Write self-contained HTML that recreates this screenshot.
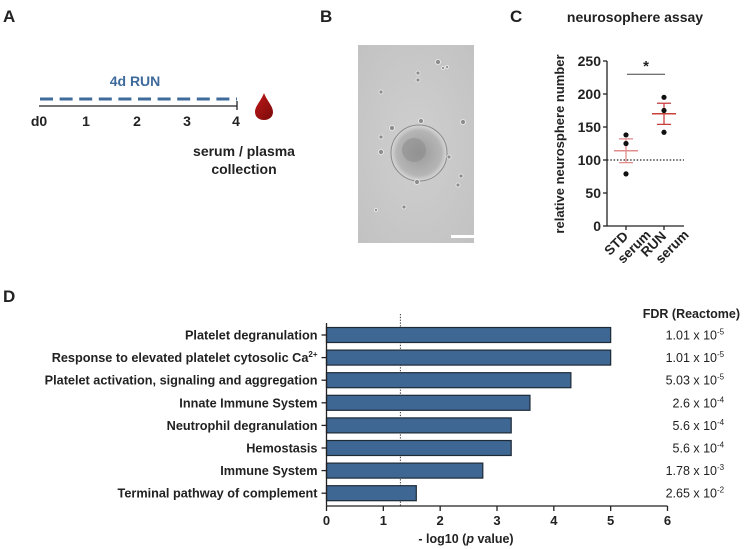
<!DOCTYPE html>
<html><head><meta charset="utf-8"><style>
html,body{margin:0;padding:0;background:#fff;}
svg{display:block;font-family:"Liberation Sans",Arial,sans-serif;}
.b{font-weight:bold;}
</style></head><body>
<svg id="fig" width="744" height="549" viewBox="0 0 744 549" xmlns="http://www.w3.org/2000/svg">
<defs>
<radialGradient id="cellbg" cx="0.5" cy="0.5" r="0.7"><stop offset="0" stop-color="#cfcfcf"/><stop offset="1" stop-color="#c2c2c2"/></radialGradient>
<radialGradient id="sph" cx="0.5" cy="0.5" r="0.5"><stop offset="0" stop-color="#9a9a9a"/><stop offset="0.8" stop-color="#b5b5b5"/><stop offset="1" stop-color="#d8d8d8"/></radialGradient>
<linearGradient id="drop" x1="0" y1="0" x2="1" y2="1"><stop offset="0" stop-color="#c01818"/><stop offset="1" stop-color="#7a0a0a"/></linearGradient>
</defs>

<text x="3" y="22" class="b" font-size="17" fill="#222">A</text>
<text x="320" y="22" class="b" font-size="17" fill="#222">B</text>
<text x="510" y="22" class="b" font-size="17" fill="#222">C</text>
<text x="3" y="302" class="b" font-size="17" fill="#222">D</text>

<g>
<text x="135" y="86" text-anchor="middle" class="b" font-size="14" fill="#3e6b9b">4d RUN</text>
<line x1="40" y1="99" x2="237" y2="99" stroke="#3e6b9b" stroke-width="3" stroke-dasharray="13,6.6"/>
<line x1="39" y1="106" x2="237" y2="106" stroke="#222" stroke-width="1.3"/>
<line x1="237" y1="101" x2="237" y2="110" stroke="#222" stroke-width="1.3"/>
<text x="39" y="126" text-anchor="middle" class="b" font-size="14" fill="#222">d0</text>
<text x="86" y="126" text-anchor="middle" class="b" font-size="14" fill="#222">1</text>
<text x="137" y="126" text-anchor="middle" class="b" font-size="14" fill="#222">2</text>
<text x="187" y="126" text-anchor="middle" class="b" font-size="14" fill="#222">3</text>
<text x="236" y="126" text-anchor="middle" class="b" font-size="14" fill="#222">4</text>
<path d="M264 93 C267 101 273 106 273 112 C273 117 269 120 264 120 C259 120 255 117 255 112 C255 106 261 101 264 93 Z" fill="url(#drop)"/>
<text x="244" y="156" text-anchor="middle" class="b" font-size="14" fill="#222">serum / plasma</text>
<text x="244" y="174" text-anchor="middle" class="b" font-size="14" fill="#222">collection</text>
</g>

<g>
<rect x="358" y="45" width="116" height="198" fill="url(#cellbg)"/>
<circle cx="419" cy="153" r="28" fill="url(#sph)" stroke="#8a8a8a" stroke-width="1"/>
<circle cx="414" cy="150" r="12" fill="#8a8a8a" opacity="0.5"/>
<g fill="#8d8d8d" stroke="#eee" stroke-width="0.8">
<circle cx="438" cy="62" r="2.5"/><circle cx="443" cy="68" r="1.5"/><circle cx="447" cy="67" r="1.5"/>
<circle cx="418" cy="73" r="2"/><circle cx="418" cy="80" r="2"/><circle cx="381" cy="92" r="2"/>
<circle cx="421" cy="121" r="2.5"/><circle cx="463" cy="122" r="2.5"/><circle cx="392" cy="128" r="2.5"/>
<circle cx="381" cy="137" r="2"/><circle cx="381" cy="152" r="2.5"/><circle cx="449" cy="157" r="2"/>
<circle cx="461" cy="176" r="2"/><circle cx="458" cy="185" r="2"/><circle cx="417" cy="182" r="2.5"/>
<circle cx="404" cy="207" r="2"/><circle cx="376" cy="210" r="1.5"/>
</g>
<rect x="451" y="235" width="23" height="3" fill="#fff"/>
</g>

<g id="chartC">
<text x="635" y="22" text-anchor="middle" class="b" font-size="14" fill="#222">neurosophere assay</text>
<text transform="translate(564,144) rotate(-90)" text-anchor="middle" class="b" font-size="13" fill="#222">relative neurosphere number</text>
</g>

<g id="chartD">
<text x="740" y="318" text-anchor="end" class="b" font-size="12.5" fill="#222">FDR (Reactome)</text>
<text x="466" y="543" text-anchor="middle" class="b" font-size="12.5" fill="#222">- log10 (<tspan font-style="italic">p</tspan> value)</text>
</g>
</svg>
<script>
var NS='http://www.w3.org/2000/svg';
function mk(parent,tag,attrs){var e=document.createElementNS(NS,tag);for(var k in attrs)e.setAttribute(k,attrs[k]);parent.appendChild(e);return e;}

var groupsC=['STD serum','RUN serum'];
var pointsSTD=[138,125,79];
var pointsRUN=[195,175,142];
var meansC=[114,170];
var semHigh=[132,186];
var semLow=[96,154];
var ticksC=[0,50,100,150,200,250];
var refLineC=100;
var sigLevelC=230;

var pathways=['Platelet degranulation','Response to elevated platelet cytosolic Ca','Platelet activation, signaling and aggregation','Innate Immune System','Neutrophil degranulation','Hemostasis','Immune System','Terminal pathway of complement'];
var logP=[5.0,5.0,4.3,3.58,3.25,3.25,2.75,1.58];
var fdrBase=['1.01 x 10','1.01 x 10','5.03 x 10','2.6 x 10','5.6 x 10','5.6 x 10','1.78 x 10','2.65 x 10'];
var fdrExp=['-5','-5','-5','-4','-4','-4','-3','-2'];
var ticksD=[0,1,2,3,4,5,6];
var thresholdD=1.3;

(function(){
var g=document.getElementById('chartC');
var x0=607,x1=684,yb=226,yt=61;
function ys(v){return yb-(v/250)*(yb-yt);}
var xc=[626,664];
var ax=mk(g,'line',{x1:x0,y1:yt,x2:x0,y2:yb,stroke:'#222','stroke-width':1.3});


var xa=mk(g,'line',{x1:x0,y1:yb,x2:x1,y2:yb,stroke:'#222','stroke-width':1.3});


ticksC.forEach(function(t){
 mk(g,'line',{x1:x0-4,y1:ys(t),x2:x0,y2:ys(t),stroke:'#222','stroke-width':1.3});
 var tx=mk(g,'text',{x:x0-6,y:ys(t)+5,'text-anchor':'end','font-size':14,'font-weight':'bold',fill:'#222'});
 tx.textContent=t;
 
 
});
var rl=mk(g,'line',{x1:x0,y1:ys(refLineC),x2:x1,y2:ys(refLineC),stroke:'#222','stroke-width':1.3,'stroke-dasharray':'1.5,1.8'});


var sb=mk(g,'line',{x1:xc[0]+1,y1:ys(sigLevelC),x2:xc[1]+1,y2:ys(sigLevelC),stroke:'#444','stroke-width':1});


var st=mk(g,'text',{x:(xc[0]+xc[1])/2+1,y:ys(sigLevelC)-3,'text-anchor':'middle','font-size':15,'font-weight':'bold',fill:'#222'});
st.textContent='*';


var pts=[pointsSTD,pointsRUN];
var cols=['#e28c8c','#c9403d'];
groupsC.forEach(function(name,i){
 mk(g,'line',{x1:xc[i],y1:yb,x2:xc[i],y2:yb+4,stroke:'#222','stroke-width':1.3});
 var c=cols[i];
 var e1=mk(g,'line',{x1:xc[i],y1:ys(semHigh[i]),x2:xc[i],y2:ys(semLow[i]),stroke:c,'stroke-width':1.3});
 
 
 [semHigh[i],semLow[i]].forEach(function(v){mk(g,'line',{x1:xc[i]-7,y1:ys(v),x2:xc[i]+7,y2:ys(v),stroke:c,'stroke-width':1.3});});
 var m=mk(g,'line',{x1:xc[i]-12,y1:ys(meansC[i]),x2:xc[i]+12,y2:ys(meansC[i]),stroke:c,'stroke-width':1.5});
 
 
 pts[i].forEach(function(v){
  var d=mk(g,'circle',{cx:xc[i],cy:ys(v),r:2.6,fill:'#111'});
  
  
 });
 var parts=name.split(' ');
 var lab=mk(g,'text',{transform:'translate('+(xc[i]+3)+','+(yb+11)+') rotate(-45)','text-anchor':'end','font-size':13.5,'font-weight':'bold',fill:'#222'});
 var t1=mk(lab,'tspan',{x:0,y:0});t1.textContent=parts[0];
 var t2=mk(lab,'tspan',{x:17,y:15});t2.textContent=parts[1];
 
 
});
})();

(function(){
var g=document.getElementById('chartD');
var x0=326.5,x6=667.5,yAxis=506,yTop=323,y0=335,step=22.6,bh=15;
function xs(v){return x0+v/6*(x6-x0);}
var th=mk(g,'line',{x1:xs(thresholdD),y1:314,x2:xs(thresholdD),y2:yAxis,stroke:'#333','stroke-width':1,'stroke-dasharray':'1.3,1.5'});


pathways.forEach(function(p,i){
 var cy=y0+i*step;
 var r=mk(g,'rect',{x:x0,y:cy-bh/2,width:xs(logP[i])-x0,height:bh,fill:'#3e6893',stroke:'#1e2a36','stroke-width':1.2});
 
 
 mk(g,'line',{x1:x0-5,y1:cy,x2:x0,y2:cy,stroke:'#222','stroke-width':1.3});
 var t=mk(g,'text',{x:x0-9,y:cy+4.5,'text-anchor':'end','font-size':12.7,'font-weight':'bold',fill:'#222'});
 t.textContent=p;
 if(i===1){var s=mk(t,'tspan',{'font-size':8,dy:-5});s.textContent='2+';}
 
 
 var f=mk(g,'text',{x:717,y:cy+4.5,'text-anchor':'end','font-size':12.5,fill:'#222'});
 f.textContent=fdrBase[i];
 
 
 var e=mk(g,'text',{x:717,y:cy-0.5,'font-size':8,fill:'#222'});
 e.textContent=fdrExp[i];
 
 
});
var ya=mk(g,'line',{x1:x0,y1:yTop,x2:x0,y2:yAxis,stroke:'#222','stroke-width':1.3});


var xa=mk(g,'line',{x1:x0,y1:yAxis,x2:x6,y2:yAxis,stroke:'#222','stroke-width':1.3});


ticksD.forEach(function(t){
 mk(g,'line',{x1:xs(t),y1:yAxis,x2:xs(t),y2:yAxis+5,stroke:'#222','stroke-width':1.3});
 var tx=mk(g,'text',{x:xs(t),y:yAxis+19,'text-anchor':'middle','font-size':13,'font-weight':'bold',fill:'#222'});
 tx.textContent=t;
 
 
});
})();
</script>
</body></html>
